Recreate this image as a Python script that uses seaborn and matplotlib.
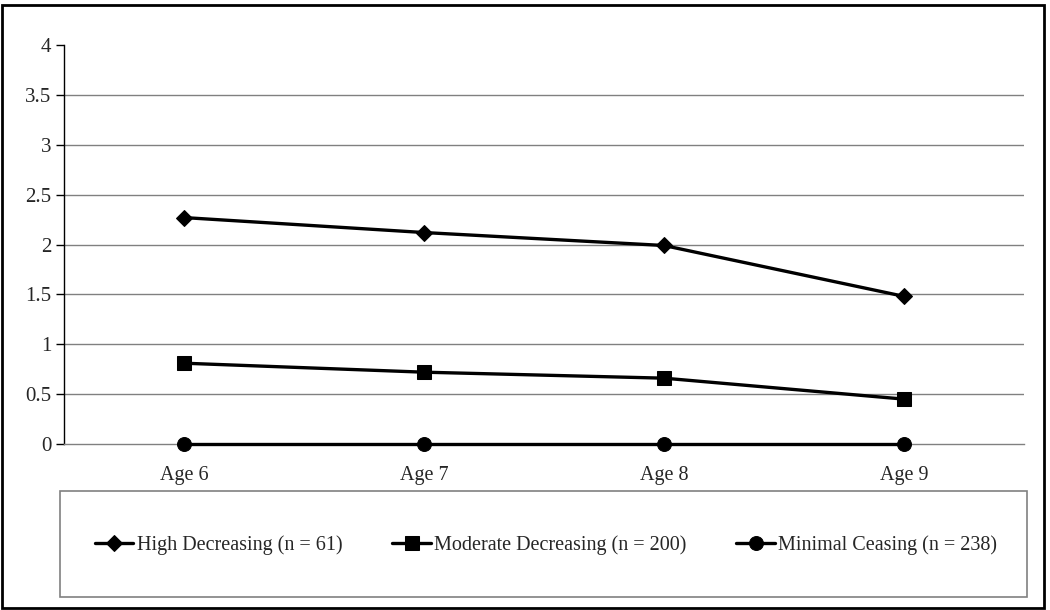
import matplotlib
matplotlib.use("Agg")
import matplotlib.pyplot as plt
import seaborn as sns
import pandas as pd
from matplotlib.patches import Rectangle

ages = ["Age 6", "Age 7", "Age 8", "Age 9"]
high_decreasing = [2.27, 2.12, 1.99, 1.48]
moderate_decreasing = [0.81, 0.72, 0.66, 0.45]
minimal_ceasing = [0.0, 0.0, 0.0, 0.0]
series_names = ["High Decreasing (n = 61)", "Moderate Decreasing (n = 200)", "Minimal Ceasing (n = 238)"]
y_ticks = [0, 0.5, 1, 1.5, 2, 2.5, 3, 3.5, 4]
y_labels = ["0", "0.5", "1", "1.5", "2", "2.5", "3", "3.5", "4"]

sns.set_style("white")
plt.rcParams["font.family"] = ["Liberation Serif", "DejaVu Serif"]

rows = []
for name, vals in zip(series_names, [high_decreasing, moderate_decreasing, minimal_ceasing]):
    for i, v in enumerate(vals):
        rows.append({"x": i, "Age": ages[i], "value": v, "series": name})
df = pd.DataFrame(rows)

W, H = 1050, 610
fig = plt.figure(figsize=(W / 100, H / 100), dpi=100)
ax = fig.add_axes([64 / W, 1 - 444 / H, (1024 - 64) / W, (444 - 45) / H])

# gridlines (excluding top)
for t in y_ticks[1:-1]:
    ax.axhline(t, color="#808080", lw=1.0, zorder=0)

markers = {series_names[0]: "D", series_names[1]: "s", series_names[2]: "o"}
sizes = {series_names[0]: 8.5, series_names[1]: 10, series_names[2]: 10}
for name in series_names:
    sub = df[df.series == name]
    sns.lineplot(data=sub, x="x", y="value", ax=ax, color="black", lw=2.4,
                 marker=markers[name], markersize=sizes[name], markeredgecolor="black",
                 markerfacecolor="black", label=name, legend=False, zorder=3,
                 clip_on=False)

ax.set_xlim(-0.5, 3.5)
ax.set_ylim(0, 4)
ax.set_yticks(y_ticks)
ax.set_yticklabels(y_labels, fontsize=15)
ax.set_xticks(range(len(ages)))
ax.set_xticklabels(ages, fontsize=14.5)
ax.set_xticks([-0.5, 0.5, 1.5, 2.5, 3.5], minor=True)
ax.tick_params(axis="x", which="major", length=0, pad=16)
ax.tick_params(axis="x", which="minor", length=6, direction="out", color="#808080", width=1)
ax.tick_params(axis="y", length=6, direction="out", color="black", width=1, pad=3, left=True)
ax.set_xlabel("")
ax.set_ylabel("")
for s in ["top", "right"]:
    ax.spines[s].set_visible(False)
ax.spines["left"].set_color("black")
ax.spines["left"].set_linewidth(1)
ax.spines["bottom"].set_color("#808080")
ax.spines["bottom"].set_linewidth(1)

# legend box
fig.patches.append(Rectangle((60 / W, 1 - 597 / H), (1027 - 60) / W, (597 - 491) / H,
                             transform=fig.transFigure, fill=False, edgecolor="#808080", lw=1.2))
# outer border
fig.patches.append(Rectangle((1.5 / W, 1 - 608 / H), (1044 - 1.5) / W, (608 - 5) / H,
                             transform=fig.transFigure, fill=False, edgecolor="black", lw=2))

handles, labels = ax.get_legend_handles_labels()
fig.legend(handles, labels, loc="center", bbox_to_anchor=((90 + 1002) / 2 / W, 1 - 545 / H),
           ncol=3, frameon=False, fontsize=14.5, columnspacing=2.5, handlelength=1.9,
           handletextpad=0.15)

fig.savefig("out.png", dpi=100)
